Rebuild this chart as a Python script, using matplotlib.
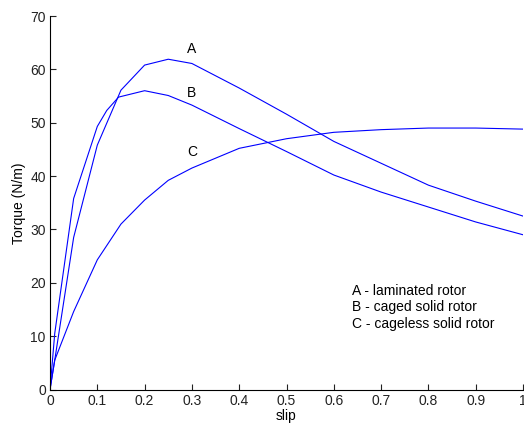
import matplotlib.pyplot as plt

plt.rcParams['font.family'] = ['Liberation Sans', 'DejaVu Sans']

# slip / torque values
slip_a = [0, 0.01, 0.05, 0.1, 0.15, 0.166, 0.2, 0.25, 0.3, 0.4, 0.5, 0.6, 0.7, 0.8, 0.9, 1.0]
torque_a = [0, 5.5, 28.5, 45.8, 56.1, 57.6, 60.8, 61.9, 61.1, 56.5, 51.6, 46.5, 42.4, 38.3, 35.3, 32.5]

slip_b = [0, 0.01, 0.05, 0.1, 0.12, 0.145, 0.2, 0.25, 0.3, 0.4, 0.5, 0.6, 0.7, 0.8, 0.9, 1.0]
torque_b = [0, 10.5, 35.8, 49.3, 52.3, 54.8, 56.0, 55.1, 53.3, 48.9, 44.6, 40.2, 37.0, 34.2, 31.4, 29.0]

slip_c = [0, 0.01, 0.05, 0.1, 0.15, 0.2, 0.25, 0.3, 0.4, 0.5, 0.6, 0.7, 0.8, 0.9, 1.0]
torque_c = [0, 5.5, 14.6, 24.3, 31.0, 35.5, 39.2, 41.5, 45.2, 47.0, 48.2, 48.7, 49.0, 49.0, 48.8]

fig = plt.figure(figsize=(5.24, 4.29), dpi=100)
ax = fig.add_axes([50 / 524, 39.5 / 429, 473 / 524, 373.5 / 429])

for s, t in [(slip_a, torque_a), (slip_b, torque_b), (slip_c, torque_c)]:
    ax.plot(s, t, color='blue', lw=0.8)

ax.text(0.3, 63.9, 'A', ha='center', va='center', fontsize=10)
ax.text(0.3, 55.5, 'B', ha='center', va='center', fontsize=10)
ax.text(0.3, 44.5, 'C', ha='center', va='center', fontsize=10)
ax.text(0.638, 15.4, 'A - laminated rotor\nB - caged solid rotor\nC - cageless solid rotor',
        ha='left', va='center', fontsize=10, linespacing=1.2)

ax.set_xlim(0, 1)
ax.set_ylim(0, 70)
ax.set_xticks([0, 0.1, 0.2, 0.3, 0.4, 0.5, 0.6, 0.7, 0.8, 0.9, 1])
ax.set_xticklabels(['0', '0.1', '0.2', '0.3', '0.4', '0.5', '0.6', '0.7', '0.8', '0.9', '1'])
ax.set_yticks(range(0, 71, 10))
ax.tick_params(direction='in', length=4, labelsize=10, pad=3, colors='#222222')
ax.spines['top'].set_visible(False)
ax.spines['right'].set_visible(False)
ax.set_xlabel('slip', fontsize=10, labelpad=1)
ax.set_ylabel('Torque (N/m)', fontsize=10, labelpad=3)

fig.savefig('out.png', dpi=100)
